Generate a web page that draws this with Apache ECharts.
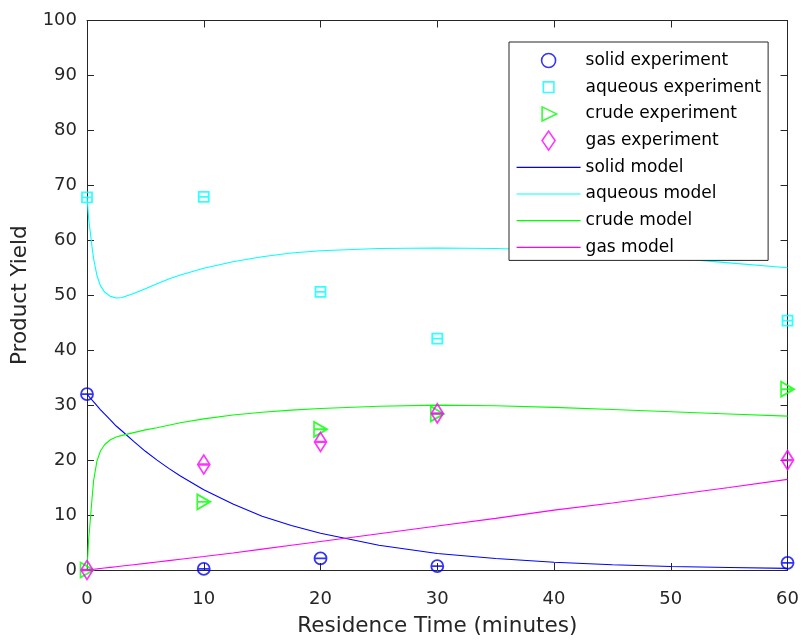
<!DOCTYPE html>
<html>
<head>
<meta charset="utf-8">
<script src="https://cdn.jsdelivr.net/npm/echarts@6/dist/echarts.min.js"></script>
<style>
  html, body { margin: 0; padding: 0; background: #fff; }
  #chart { width: 802px; height: 642px; }
</style>
</head>
<body>
<div id="chart"></div>
<script>
// Measured yields at each residence time (minutes)
const expTimes   = [0, 10, 20, 30, 60];
const solidExp   = [32.0, 0.2, 2.1, 0.7, 1.3];
const aqueousExp = [67.8, 67.9, 50.6, 42.1, 45.4];
const crudeExp   = [0.0, 12.4, 25.6, 28.4, 32.9];
const gasExp     = [0.0, 19.2, 23.3, 28.5, 20.0];

// Model curves sampled on a common time grid (minutes)
const modelTimes   = [0, 0.14, 0.28, 0.43, 0.57, 0.85, 1.14, 1.5, 2, 2.5, 3, 4, 5, 6, 7, 8, 10, 12.5, 15, 17.5, 20, 25, 30, 35, 40, 45, 50, 55, 60];
const solidModel   = [32, 31.65, 31.3, 30.95, 30.6, 29.9, 29.2, 28.4, 27.3, 26.2, 25.3, 23.4, 21.6, 20.0, 18.5, 17.1, 14.6, 12.0, 9.8, 8.1, 6.7, 4.5, 3.0, 2.1, 1.4, 0.95, 0.65, 0.45, 0.3];
const aqueousModel = [68, 64, 61.5, 58.8, 56.6, 53.6, 51.8, 50.6, 49.8, 49.5, 49.6, 50.3, 51.2, 52.1, 52.95, 53.7, 54.9, 56.1, 57.0, 57.7, 58.1, 58.5, 58.6, 58.5, 58.2, 57.6, 56.8, 55.9, 55.0];
const crudeModel   = [0, 5.5, 9.0, 13.0, 16.3, 19.8, 21.6, 22.8, 23.7, 24.2, 24.5, 25.0, 25.5, 25.9, 26.35, 26.8, 27.5, 28.2, 28.7, 29.1, 29.4, 29.8, 30.0, 29.9, 29.6, 29.2, 28.8, 28.4, 28.0];
const gasModel     = [0, 0.03, 0.07, 0.1, 0.14, 0.2, 0.27, 0.36, 0.48, 0.6, 0.72, 0.96, 1.2, 1.45, 1.7, 1.95, 2.45, 3.1, 3.8, 4.5, 5.2, 6.6, 8.0, 9.4, 10.9, 12.2, 13.6, 15.0, 16.5];

const xTicks = [0, 10, 20, 30, 40, 50, 60];
const yTicks = [0, 10, 20, 30, 40, 50, 60, 70, 80, 90, 100];

const seriesNames = ['solid experiment', 'aqueous experiment', 'crude experiment', 'gas experiment',
                     'solid model', 'aqueous model', 'crude model', 'gas model'];

const AXIS = '#262626';
const FONT = '"DejaVu Sans", "Liberation Sans", Arial, sans-serif';
const BLUE = '#0000ff', CYAN = '#00ffff', GREEN = '#00ff00', MAGENTA = '#ff00ff';

// Marker outlines with a horizontal bar through the middle
const markOpen = {
  circle:   'path://M0,-1A1,1,0,1,1,0,1A1,1,0,1,1,0,-1ZM-1,0L1,0',
  square:   'path://M-1,-1L1,-1L1,1L-1,1ZM-1,0L1,0',
  triangle: 'path://M-1,-1L1,0L-1,1ZM-1,0L1,0',
  diamond:  'path://M0,-1L1,0L0,1L-1,0ZM-1,0L1,0'
};
// Legend icons (plain outlines inside a 19x19 box)
const legendIcons = {
  circle:   'path://M-9.5,-9.5M9.5,9.5M0,-7A7,7,0,1,1,0,7A7,7,0,1,1,0,-7Z',
  square:   'path://M-9.5,-9.5M9.5,9.5M-5.3,-5.3L5.3,-5.3L5.3,5.3L-5.3,5.3Z',
  triangle: 'path://M-9.5,-9.5M9.5,9.5M-6.5,-7L8,0L-6.5,7Z',
  diamond:  'path://M-9.5,-9.5M9.5,9.5M0,-9.5L6.5,0L0,9.5L-6.5,0Z'
};

function pairs(xs, ys) { return xs.map((x, i) => [x, ys[i]]); }

function expSeries(name, ys, color, shape, size) {
  return {
    name, type: 'scatter', xAxisIndex: 0, yAxisIndex: 0,
    data: pairs(expTimes, ys),
    symbol: markOpen[shape], symbolSize: size,
    itemStyle: { color: 'rgba(0,0,0,0)', borderColor: color, borderWidth: 1.8 },
    emphasis: { disabled: true }, silent: true, z: 3
  };
}
function modelSeries(name, ys, color) {
  return {
    name, type: 'line', xAxisIndex: 0, yAxisIndex: 0,
    data: pairs(modelTimes, ys),
    showSymbol: false, symbol: 'none', smooth: false,
    itemStyle: { color },
    lineStyle: { color, width: 1.1 },
    emphasis: { disabled: true }, silent: true, z: 2
  };
}

function legendMarker(name, shape, color) {
  return { name, icon: legendIcons[shape],
           itemStyle: { color: 'rgba(0,0,0,0)', borderColor: color, borderWidth: 1.6 } };
}
function legendLine(name, color) {
  // plain line sample: hide the centre dot that line series add by default
  return { name, itemStyle: { color: 'rgba(0,0,0,0)', borderWidth: 0, opacity: 0 },
           lineStyle: { color, width: 1.2 } };
}

const baseAxisLine = { show: true, onZero: false, lineStyle: { color: AXIS, width: 1 } };
const baseTick = { show: true, inside: true, length: 7, lineStyle: { color: AXIS, width: 1 } };

const chart = echarts.init(document.getElementById('chart'), null, { renderer: 'canvas' });
chart.setOption({
  animation: false,
  backgroundColor: '#ffffff',
  textStyle: { fontFamily: FONT },
  grid: { left: 87, right: 14, top: 20.5, bottom: 69.5, containLabel: false },
  xAxis: [
    {
      type: 'value', position: 'bottom', min: xTicks[0], max: xTicks[xTicks.length - 1], interval: 10,
      name: 'Residence Time (minutes)', nameLocation: 'middle', nameGap: 45,
      nameTextStyle: { color: AXIS, fontSize: 21.5, fontFamily: FONT },
      axisLine: baseAxisLine, axisTick: baseTick,
      axisLabel: { color: AXIS, fontSize: 18, fontFamily: FONT, margin: 20 },
      splitLine: { show: false }
    },
    {
      type: 'value', position: 'top', min: xTicks[0], max: xTicks[xTicks.length - 1], interval: 10,
      axisLine: baseAxisLine, axisTick: baseTick,
      axisLabel: { show: false }, splitLine: { show: false }
    }
  ],
  yAxis: [
    {
      type: 'value', position: 'left', min: yTicks[0], max: yTicks[yTicks.length - 1], interval: 10,
      name: 'Product Yield', nameLocation: 'middle', nameGap: 47,
      nameTextStyle: { color: AXIS, fontSize: 21.5, fontFamily: FONT },
      axisLine: baseAxisLine, axisTick: baseTick,
      axisLabel: { color: AXIS, fontSize: 18, fontFamily: FONT, margin: 10 },
      splitLine: { show: false }
    },
    {
      type: 'value', position: 'right', min: yTicks[0], max: yTicks[yTicks.length - 1], interval: 10,
      axisLine: baseAxisLine, axisTick: baseTick,
      axisLabel: { show: false }, splitLine: { show: false }
    }
  ],
  legend: {
    orient: 'vertical', left: 509, top: 42,
    padding: [8, 7, 2.5, 7],
    itemWidth: 64, itemHeight: 19, itemGap: 5.7,
    backgroundColor: '#ffffff', borderColor: AXIS, borderWidth: 1,
    selectedMode: false,
    textStyle: { color: '#000000', fontSize: 17, lineHeight: 21, fontFamily: FONT },
    data: [
      legendMarker(seriesNames[0], 'circle', BLUE),
      legendMarker(seriesNames[1], 'square', CYAN),
      legendMarker(seriesNames[2], 'triangle', GREEN),
      legendMarker(seriesNames[3], 'diamond', MAGENTA),
      legendLine(seriesNames[4], BLUE),
      legendLine(seriesNames[5], CYAN),
      legendLine(seriesNames[6], GREEN),
      legendLine(seriesNames[7], MAGENTA)
    ]
  },
  series: [
    expSeries(seriesNames[0], solidExp, BLUE, 'circle', [12, 12]),
    expSeries(seriesNames[1], aqueousExp, CYAN, 'square', [10, 10]),
    expSeries(seriesNames[2], crudeExp, GREEN, 'triangle', [13, 15]),
    expSeries(seriesNames[3], gasExp, MAGENTA, 'diamond', [12, 19]),
    modelSeries(seriesNames[4], solidModel, BLUE),
    modelSeries(seriesNames[5], aqueousModel, CYAN),
    modelSeries(seriesNames[6], crudeModel, GREEN),
    modelSeries(seriesNames[7], gasModel, MAGENTA)
  ]
});
</script>
</body>
</html>
